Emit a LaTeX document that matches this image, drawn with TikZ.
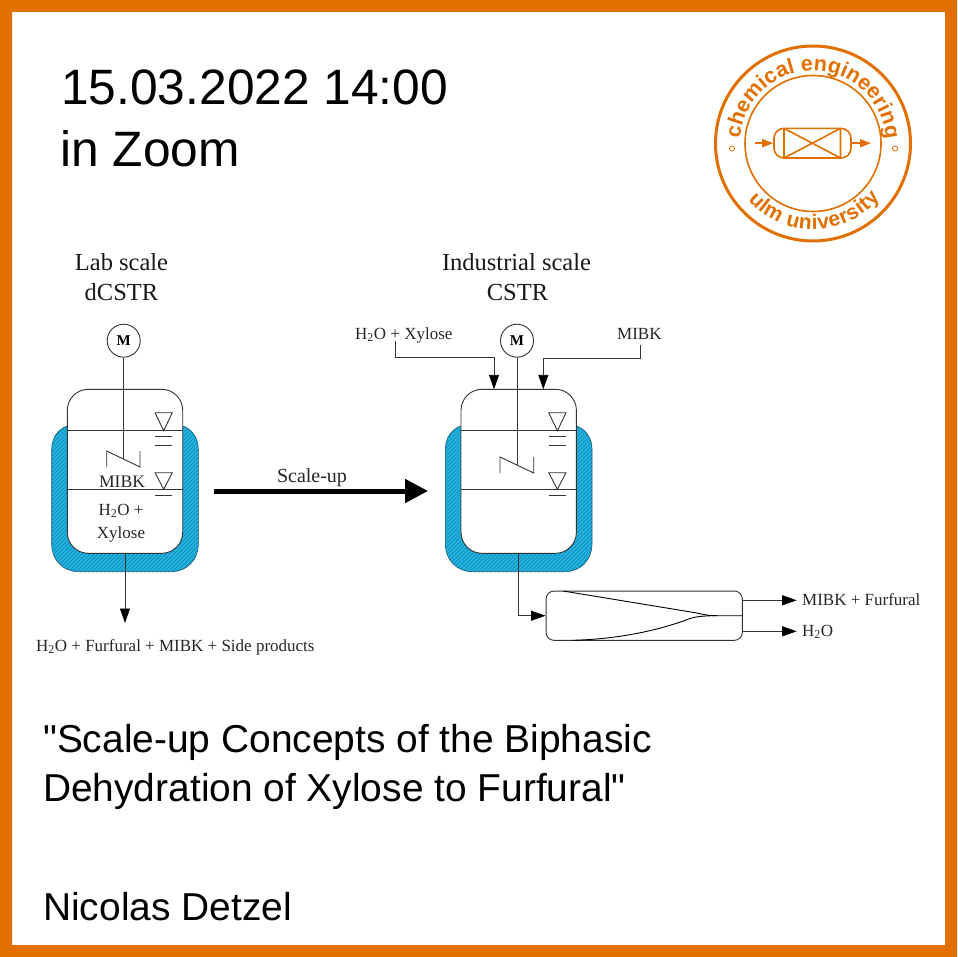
\documentclass[tikz,border=0pt]{standalone}
\usepackage{fontspec}
\setmainfont{Liberation Sans}
\newfontfamily\plainsans{Liberation Sans}
\newfontfamily\serifdiag{Liberation Serif}
\usetikzlibrary{arrows.meta,decorations.text,calc}
\definecolor{uorange}{HTML}{E17000}
\definecolor{jacketblue}{HTML}{1FB2E0}
\definecolor{hatchblue}{HTML}{1A86AE}
\definecolor{pipe}{HTML}{333333}
\newcommand{\fs}[1]{\fontsize{#1}{#1}\selectfont}
\newcommand{\jacketshape}{(67.3,426) .. controls (58,429) and (51.7,438) .. (51.7,449) -- (51.7,544) .. controls (51.7,560) and (63,571.7) .. (79,571.7) -- (171,571.7) .. controls (187,571.7) and (198.3,560) .. (198.3,544) -- (198.3,449) .. controls (198.3,438) and (192,429) .. (182.7,426) -- cycle}
\newcommand{\jacket}[1]{%
  \begin{scope}[xshift=#1pt]
    \fill[jacketblue] \jacketshape;
    \begin{scope}
      \clip \jacketshape;
      \foreach \k in {0,4,...,332} {\draw[hatchblue,line width=0.6pt] (40+\k,580) -- (40+\k+170,410);}
      \foreach \k in {4,8,...,180} {\draw[hatchblue,line width=0.6pt] (40-\k,580) -- (40-\k+170,410);}
    \end{scope}
    \draw[hatchblue!70!black,line width=0.6pt] \jacketshape;
  \end{scope}}
\newcommand{\levels}[1]{%
  \begin{scope}[xshift=#1pt]
    \draw[thinline] (67.3,430.7) -- (182.7,430.7) (67.3,489.3) -- (182.7,489.3);
    \draw[thinline] (155,412.7) -- (172.3,412.7) -- (163.7,430.7) -- cycle;
    \draw[thinline] (155,472.7) -- (172.3,472.7) -- (163.7,489.3) -- cycle;
    \draw[thinline] (155,436) -- (172.3,436) (155,445) -- (172.3,445) (155,495) -- (172.3,495);
  \end{scope}}
\tikzset{
  thinline/.style={draw=pipe,line width=0.9pt},
  flow/.style={thinline,-{Triangle[length=14.5pt,width=10pt,color=black]}},
  vesselbox/.style={draw=pipe,line width=0.9pt,fill=white,rounded corners=21pt,minimum width=115.4pt,minimum height=164pt,inner sep=0pt},
  motorbox/.style={circle,draw=pipe,fill=white,line width=0.9pt,minimum size=33pt,inner sep=0pt,font=\serifdiag\bfseries\fs{15}},
  diag/.style={font=\serifdiag\fs{17},inner sep=0pt,text=black!85},
  heading/.style={font=\serifdiag\fs{24.5},inner sep=0pt,text=black!90,align=center},
  big/.style={inner sep=0pt,anchor=base west,text=black},
  logotext/.style={uorange,line width=1.6pt}
}
\begin{document}
\begin{tikzpicture}[x=1pt,y=-1pt]
\useasboundingbox (0,0) rectangle (957,957);
\fill[white] (0,0) rectangle (957,957);
\fill[uorange,even odd rule] (0,0) rectangle (957,957) (12,12) rectangle (945,945);

% titles
\node[big,font=\fs{49.7}] (date) at (61,105) {15.03.2022 14:00};
\node[big,font=\fs{49.7}] (place) at (60,167) {in Zoom};
\node[big,font=\plainsans\fs{38.9}] (t1) at (43,752) {"Scale-up Concepts of the Biphasic};
\node[big,font=\plainsans\fs{38.9}] (t2) at (43,801) {Dehydration of Xylose to Furfural"};
\node[big,font=\fs{38.9}] (author) at (43,920) {Nicolas Detzel};

% logo
\coordinate (logo) at (813,143.5);
\draw[uorange,line width=3pt] (logo) circle (97.5pt);
\draw[uorange,line width=1.6pt] (logo) circle (68pt);
\draw[uorange,line width=0.8pt] (732,148.5) circle (2.6pt) (895,148.5) circle (2.6pt);
\path[decorate,decoration={text along path,text align={fit to path},text={|\bfseries\fs{21.5}\color{uorange}|chemical engineering}}]
  (logo) ++(176:73pt) arc[start angle=176,end angle=4,radius=73pt];
\path[decorate,decoration={text along path,text align={fit to path},text={|\bfseries\fs{21}\color{uorange}|ulm university}}]
  (logo) ++(221:86pt) arc[start angle=221,end angle=321,radius=86pt];
\node[draw=uorange,line width=1.6pt,rounded corners=10pt,minimum width=77pt,minimum height=29.7pt,inner sep=0pt] (rx) at (812.5,143.2) {};
\draw[logotext] (784,128.4) -- (784,158) (840.5,128.4) -- (840.5,158) (784,128.4) -- (840.5,158) (784,158) -- (840.5,128.4);
\coordinate (rxin) at (755,143.2);
\coordinate (rxout) at (871,143.2);
\draw[logotext,-{Triangle[length=11pt,width=8pt]}] (rxin) -- (rx.west);
\draw[logotext,-{Triangle[length=11pt,width=8pt]}] (rx.east) -- (rxout);

% vessels
\jacket{0}
\jacket{393.7}
\node[vesselbox] (vA) at (125,471.3) {};
\node[vesselbox] (vB) at (518.7,471.3) {};
\levels{0}
\levels{393.7}

% motors and stirrers
\node[motorbox] (mA) at (123.7,340.7) {M};
\node[motorbox] (mB) at (517,340.7) {M};
\coordinate (sA) at (123.7,459);
\coordinate (sB) at (517,465);
\draw[thinline] (mA) -- (sA);
\draw[thinline] (mB) -- (sB);
\draw[thinline] (106.7,467) -- (106.7,451) -- (140,467) -- (140,451);
\draw[thinline] (500,473) -- (500,457) -- (533.7,473) -- (533.7,457);

% headings
\node[heading,anchor=base] (hA) at (121.5,271) {Lab scale};
\node[heading,anchor=base] (hA2) at (121.5,300) {dCSTR};
\node[heading,anchor=base] (hB) at (516.5,271) {Industrial scale};
\node[heading,anchor=base] (hB2) at (517.5,300) {CSTR};

% labels lab scale
\node[diag,anchor=base,font=\serifdiag\fs{17.6}] (lm) at (122,487) {MIBK};
\node[diag,anchor=base] (lw) at (121,515) {H\textsubscript{2}O +};
\node[diag,anchor=base] (lx) at (121,538) {Xylose};
\node[diag,anchor=base west] (prod) at (36,651) {H\textsubscript{2}O + Furfural + MIBK + Side products};
\draw[flow] (vA.south) -- (125,623);

% scale-up
\node[inner sep=0pt,font=\serifdiag\fs{20},text=black!85,anchor=base] (su) at (312,482) {Scale-up};
\coordinate (suin) at (214,491);
\coordinate (suout) at (428,491);
\draw[line width=5pt,-{Triangle[length=23pt,width=23pt]},black] (suin) -- (suout);

% inlets
\node[diag,anchor=base west] (fw) at (355,339) {H\textsubscript{2}O + Xylose};
\node[diag,anchor=base west] (fm) at (617,339) {MIBK};
\coordinate (iw) at (494,389.3);
\coordinate (im) at (543.3,389.3);
\draw[flow] (395.7,341) |- (494,357.3) -- (iw);
\draw[flow] (640,345) |- (543.3,358) -- (im);

% separator
\node[draw=pipe,line width=0.9pt,rounded corners=8pt,minimum width=196.3pt,minimum height=49.3pt,inner sep=0pt] (sep) at (644.2,615.7) {};
\draw[black,line width=0.9pt] (563,591) -- (697,613) .. controls (705,615) and (710,615.7) .. (717,615.7) -- (742.3,615.7);
\draw[black,line width=0.9pt] (573,640.3) .. controls (620,639) and (660,630) .. (690,618.5) .. controls (698,616) and (708,615.7) .. (717,615.7);
\draw[flow] (518.3,553.3) |- (sep.west);
\node[diag,anchor=base west] (omf) at (802,605) {MIBK + Furfural};
\node[diag,anchor=base west] (owt) at (802,636) {H\textsubscript{2}O};
\draw[flow] (742.3,600.3) -- (796.7,600.3);
\draw[flow] (742.3,631.3) -- (796.7,631.3);
\end{tikzpicture}
\end{document}
